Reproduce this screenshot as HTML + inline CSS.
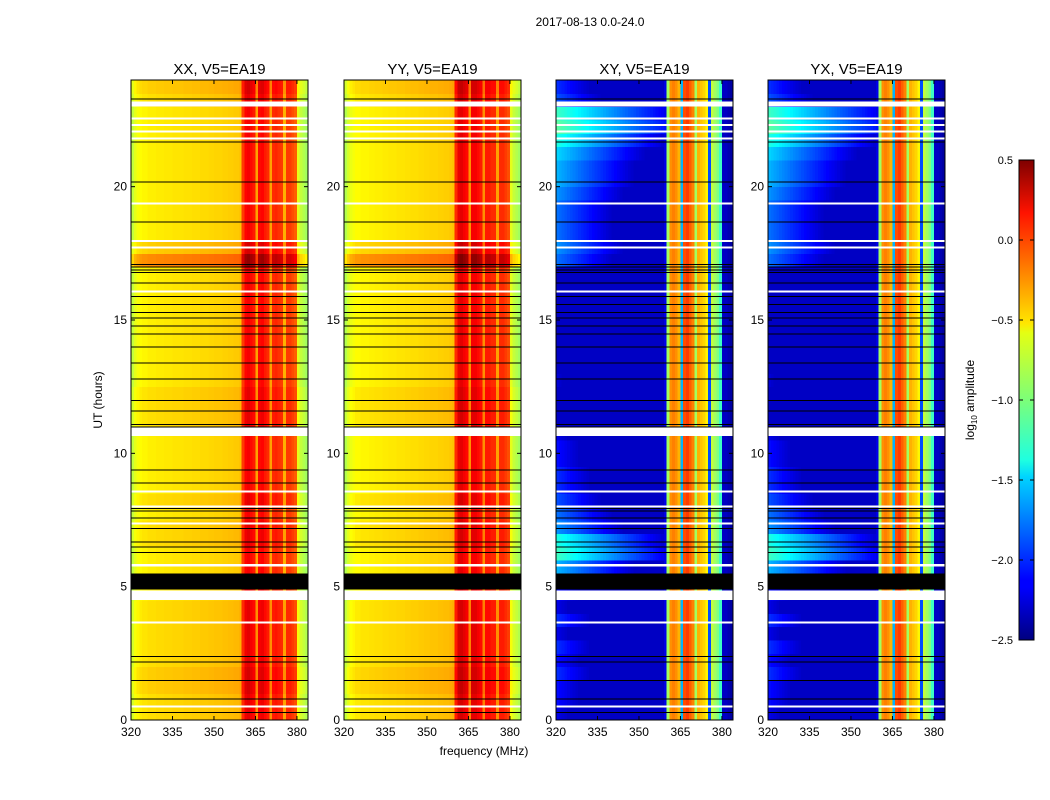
<!DOCTYPE html>
<html><head><meta charset="utf-8"><style>
body{margin:0;background:#fff;}
svg{display:block;font-family:"Liberation Sans",sans-serif;}
</style></head><body>
<svg id="fig" width="1050" height="800" viewBox="0 0 1050 800">
<defs>
<linearGradient id="jetg" x1="0" y1="1" x2="0" y2="0">
<stop offset="0" stop-color="#00007f"/><stop offset="0.11" stop-color="#0000ff"/><stop offset="0.125" stop-color="#0000ff"/>
<stop offset="0.34" stop-color="#00d4ff"/><stop offset="0.375" stop-color="#1fffe0"/><stop offset="0.5" stop-color="#7cff79"/>
<stop offset="0.64" stop-color="#e4ff13"/><stop offset="0.66" stop-color="#ffe600"/><stop offset="0.89" stop-color="#ff1300"/><stop offset="1" stop-color="#7f0000"/>
</linearGradient>
</defs>
<text x="590" y="26" font-size="12" text-anchor="middle">2017-08-13 0.0-24.0</text>
<text x="484" y="755" font-size="12" text-anchor="middle">frequency (MHz)</text>
<text transform="translate(102,400) rotate(-90)" font-size="12" text-anchor="middle">UT (hours)</text>
<g id="panels"></g>
<g>
<rect x="1019" y="160" width="15" height="480" fill="url(#jetg)" stroke="#000" stroke-width="1"/>
<g id="cbticks"></g>
<text transform="translate(974,400) rotate(-90)" font-size="12" text-anchor="middle">log<tspan font-size="8" dy="3">10</tspan><tspan dy="-3"> amplitude</tspan></text>
</g>
</svg>
<script>
// ---- data ----
const titles = ["XX, V5=EA19","YY, V5=EA19","XY, V5=EA19","YX, V5=EA19"];
const xTicks = [320,335,350,365,380];
const yTicks = [0,5,10,15,20];
const cbTicks = [0.5,0.0,-0.5,-1.0,-1.5,-2.0,-2.5];
// channel profiles (log10 amplitude), 1 MHz channels from 320 to 383
const profXX = [-0.8,-0.7,-0.65,-0.62,-0.6,-0.6,-0.58,-0.58,-0.58,-0.57,-0.57,-0.57,-0.56,-0.56,-0.56,-0.55,-0.55,-0.55,-0.55,-0.54,-0.54,-0.54,-0.53,-0.53,-0.53,-0.52,-0.52,-0.52,-0.51,-0.51,-0.5,-0.5,-0.5,-0.49,-0.49,-0.48,-0.48,-0.47,-0.47,-0.45,
 -0.05,0.12,0.15,0.1,0.05,-0.35,0.1,0.12,0.05,0.0,-0.35,0.0,0.02,-0.02,-0.05,-0.4,-0.05,-0.05,-0.1,-0.15,-0.7,-0.8,-0.85,-0.9];
const profYY = [-0.85,-0.75,-0.68,-0.65,-0.62,-0.62,-0.6,-0.6,-0.6,-0.59,-0.59,-0.58,-0.58,-0.58,-0.57,-0.57,-0.56,-0.56,-0.56,-0.55,-0.55,-0.55,-0.54,-0.54,-0.53,-0.53,-0.53,-0.52,-0.52,-0.51,-0.51,-0.5,-0.5,-0.5,-0.49,-0.49,-0.48,-0.48,-0.47,-0.45,
 0.0,0.18,0.2,0.15,0.1,-0.3,0.15,0.15,0.1,0.05,-0.3,0.05,0.05,0.0,0.0,-0.35,0.0,0.0,-0.05,-0.1,-0.7,-0.8,-0.85,-0.9];
const profXY = [-2.3,-2.3,-2.3,-2.3,-2.3,-2.3,-2.3,-2.3,-2.3,-2.3,-2.3,-2.3,-2.3,-2.3,-2.3,-2.3,-2.3,-2.3,-2.3,-2.3,-2.3,-2.3,-2.3,-2.3,-2.3,-2.3,-2.3,-2.3,-2.3,-2.3,-2.3,-2.3,-2.3,-2.3,-2.3,-2.3,-2.3,-2.3,-2.3,-2.2,
 -0.9,-0.3,-0.25,-0.3,-0.4,-1.6,-0.1,-0.05,-0.15,-0.25,-0.9,-0.4,-0.45,-0.5,-0.6,-1.9,-0.8,-0.9,-1.0,-1.2,-2.3,-2.3,-2.35,-2.4];
const profYX = profXY;
// per half-hour row offsets (0h..24h)
const rowParallel = [0.05,0.05,0.1,0.1,0.05,0.05,0.05,0.05,0.05,0,0,0,0,0.05,0.05,0,0.05,0,0,0,0,0,0.05,0.05,0.05,0,0,0,0,0,0,0,0,0,0.3,0.1,0,0,0,0,0,0,0,0,0,0,0.05,0.1];
// cross-hand low-frequency emission level (per half hour)
const rowCrossLeft = [-2.2,-2.1,-2.1,-2.0,-2.1,-2.0,-2.2,-2.0,-2.2,-2.1,-1.8,-1.6,-1.2,-1.3,-1.7,-1.8,-1.9,-2.0,-2.0,-2.1,-2.1,-2.2,-2.3,-2.3,-2.3,-2.25,-2.3,-2.3,-2.3,-2.3,-2.3,-2.3,-2.3,-2.3,-1.8,-1.7,-1.8,-1.8,-1.8,-1.7,-1.6,-1.6,-1.5,-1.3,-1.1,-1.2,-1.9,-2.0];
const whiteBands = [[4.5,4.85],[5.75,5.85],[10.65,11.0],[23.0,23.2]];
const whiteLines = [0.55,3.7,7.4,8.05,8.6,16.1,17.75,18.0,19.4,21.85,22.1,22.35,22.6];
const blackBands = [[4.9,5.5]];
const blackLines = [0.3,0.8,1.5,2.2,2.4,6.3,6.5,6.7,7.2,7.6,7.85,7.95,8.9,9.4,11.0,11.1,11.6,12.0,12.8,13.4,14.0,14.5,14.8,15.1,15.3,15.6,15.9,16.4,16.8,16.9,17.0,17.1,18.7,20.2,21.7,23.3];

// ---- layout ----
const lefts=[131,344,556,768], W=177, TOP=80, BOT=720;
const FMIN=320,FMAX=384,TMAX=24;
function jet(v){let t=(v+2.5)/3;t=Math.max(0,Math.min(1,t));
 const r=Math.max(0,Math.min(1,Math.min(4*t-1.5,-4*t+4.5)));
 const g=Math.max(0,Math.min(1,Math.min(4*t-0.5,-4*t+3.5)));
 const b=Math.max(0,Math.min(1,Math.min(4*t+0.5,-4*t+2.5)));
 return `rgb(${Math.round(r*255)},${Math.round(g*255)},${Math.round(b*255)})`;}
const NS="http://www.w3.org/2000/svg";
function mk(tag,attrs,parent){const e=document.createElementNS(NS,tag);for(const k in attrs)e.setAttribute(k,attrs[k]);parent.appendChild(e);return e;}
const panelsG=document.getElementById('panels');
const profs=[profXX,profYY,profXY,profYX];
profs.forEach((prof,p)=>{
 const L=lefts[p];
 const xs=f=>L+(f-FMIN)*W/(FMAX-FMIN);
 const ys=h=>BOT-h*(BOT-TOP)/TMAX;
 const g=mk('g',{'shape-rendering':'crispEdges'},panelsG);
 
 
 const cross=p>=2;
 const nR=rowParallel.length, dh=TMAX/nR;
 for(let r=0;r<nR;r++){
  for(let c=0;c<prof.length;c++){
   const f=FMIN+c;
   let v=prof[c];
   if(cross){ if(c<40){v=Math.max(v,rowCrossLeft[r]-c*0.025);} }
   else v+=rowParallel[r];
   const rc=mk('rect',{x:xs(f),y:ys((r+1)*dh),width:W/(FMAX-FMIN)+0.5,height:(BOT-TOP)/nR+0.5,fill:jet(v)},g);
   
   
  }
 }
 whiteBands.forEach(b=>{const e=mk('rect',{x:L,y:ys(b[1]),width:W,height:ys(b[0])-ys(b[1]),fill:'#fff'},g);
  });
 whiteLines.forEach(h=>{const e=mk('rect',{x:L,y:ys(h),width:W,height:2,fill:'#fff'},g);
  });
 blackBands.forEach(b=>{const e=mk('rect',{x:L,y:ys(b[1]),width:W,height:ys(b[0])-ys(b[1]),fill:'#000'},g);
  });
 blackLines.forEach(h=>{const e=mk('rect',{x:L,y:ys(h),width:W,height:1,fill:'#000'},g);
  });
 const fr=mk('rect',{x:L,y:TOP,width:W,height:BOT-TOP,fill:'none',stroke:'#000','stroke-width':1},panelsG);
 
 const t=mk('text',{x:L+W/2,y:TOP-6,'font-size':15,'text-anchor':'middle'},panelsG);t.textContent=titles[p];
 
 xTicks.forEach(f=>{const x=xs(f);
  mk('line',{x1:x,x2:x,y1:BOT,y2:BOT-4,stroke:'#000'},panelsG);mk('line',{x1:x,x2:x,y1:TOP,y2:TOP+4,stroke:'#000'},panelsG);
  const e=mk('text',{x:x,y:BOT+16,'font-size':12,'text-anchor':'middle'},panelsG);e.textContent=f;
  });
 yTicks.forEach(h=>{const y=ys(h);
  mk('line',{x1:L,x2:L+4,y1:y,y2:y,stroke:'#000'},panelsG);mk('line',{x1:L+W,x2:L+W-4,y1:y,y2:y,stroke:'#000'},panelsG);
  const e=mk('text',{x:L-4,y:y+4,'font-size':12,'text-anchor':'end'},panelsG);e.textContent=h;
  });
});
const cbg=document.getElementById('cbticks');
cbTicks.forEach(v=>{const y=160+(0.5-v)/3*480;
 mk('line',{x1:1019,x2:1023,y1:y,y2:y,stroke:'#000'},cbg);mk('line',{x1:1030,x2:1034,y1:y,y2:y,stroke:'#000'},cbg);
 const e=mk('text',{x:1013,y:y+4,'font-size':11,'text-anchor':'end'},cbg);e.textContent=v.toFixed(1).replace('-','\u2212');
 });
</script>
</body></html>
